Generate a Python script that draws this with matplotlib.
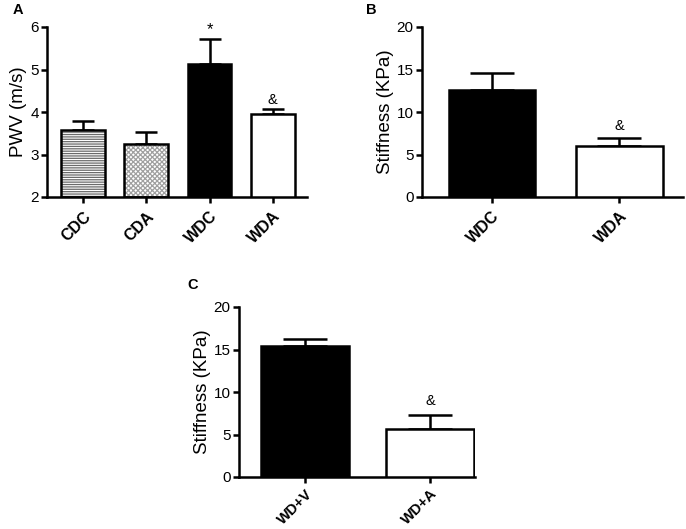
import numpy as np
import matplotlib
matplotlib.use("Agg")
import matplotlib.pyplot as plt

plt.rcParams['font.family'] = ['Liberation Sans', 'DejaVu Sans']

# panel A: pulse wave velocity
groups_a = ["CDC", "CDA", "WDC", "WDA"]
pwv_mean = [3.58, 3.25, 5.12, 3.96]
pwv_sem = [0.22, 0.27, 0.59, 0.10]
marks_a = ["", "", "*", "&"]

# panel B: stiffness
groups_b = ["WDC", "WDA"]
stiff_b_mean = [12.6, 6.0]
stiff_b_sem = [1.95, 0.98]
marks_b = ["", "&"]

# panel C: stiffness
groups_c = ["WD+V", "WD+A"]
stiff_c_mean = [15.4, 5.7]
stiff_c_sem = [0.85, 1.6]
marks_c = ["", "&"]

W, H = 686, 529
fig = plt.figure(figsize=(W / 100, H / 100), dpi=100)

def rect(l, r, t, b):
    return [l / W, 1 - b / H, (r - l) / W, (b - t) / H]

def style(ax, ylim, yticks, ylabel, labels, xsize=11.5, xpad=4):
    for s in ["top", "right"]:
        ax.spines[s].set_visible(False)
    for s in ["left", "bottom"]:
        ax.spines[s].set_linewidth(1.8)
    ax.set_ylim(*ylim)
    ax.set_yticks(yticks)
    ax.set_xticks(range(len(labels)))
    ax.set_xticklabels(labels, rotation=45, ha="right", rotation_mode="anchor",
                       fontweight="bold", fontsize=xsize)
    ax.tick_params(axis="both", width=1.8, length=4.5, labelsize=11, pad=1.5)
    ax.tick_params(axis="x", labelsize=xsize, pad=xpad)
    ax.set_ylabel(ylabel, fontsize=13.5, labelpad=2)

def bars(ax, means, sems, faces, hatches, hcolors, width, cap, marks, off):
    x = np.arange(len(means))
    y0 = ax.get_ylim()[0]
    for i in range(len(means)):
        h = [m - y0 for m in means]
        if hatches[i]:
            ax.bar(x[i], h[i], bottom=y0, width=width, color="white",
                   edgecolor=hcolors[i], hatch=hatches[i], linewidth=0, zorder=2)
            ax.bar(x[i], h[i], bottom=y0, width=width, color="none",
                   edgecolor="black", linewidth=1.8, zorder=3)
        else:
            ax.bar(x[i], h[i], bottom=y0, width=width, color=faces[i],
                   edgecolor="black", linewidth=1.8, zorder=3)
    ax.errorbar(x, means, yerr=[np.zeros(len(sems)), sems], fmt="none", ecolor="black",
                elinewidth=1.8, capsize=cap, capthick=1.8, zorder=1)
    for i in range(len(means)):
        if marks[i]:
            size = 12 if marks[i] == "*" else 10.5
            ax.text(x[i], means[i] + sems[i] + off, marks[i], ha="center", va="bottom", fontsize=size)

# A
axA = fig.add_axes(rect(47, 307, 27, 197))
axA.set_xlim(-0.57, 3.54)
style(axA, (2, 6), [2, 3, 4, 5, 6], "PWV (m/s)", groups_a)
plt.rcParams['hatch.linewidth'] = 0.9
bars(axA, pwv_mean, pwv_sem, ["white", "white", "black", "white"],
     ["-------", "xxxxxxx", "", ""], ["#6a6a6a", "#a0a0a0", "", ""],
     0.69, 7.9, marks_a, 0.05)

# B
axB = fig.add_axes(rect(422, 683, 27, 197))
axB.set_xlim(-0.55, 1.50)
style(axB, (0, 20), [0, 5, 10, 15, 20], "Stiffness (KPa)", groups_b)
bars(axB, stiff_b_mean, stiff_b_sem, ["black", "white"], ["", ""], ["", ""],
     0.68, 15.8, marks_b, 0.5)

# C
axC = fig.add_axes(rect(239, 475, 307, 477))
axC.set_xlim(-0.53, 1.36)
style(axC, (0, 20), [0, 5, 10, 15, 20], "Stiffness (KPa)", groups_c, xsize=10.5, xpad=2.5)
bars(axC, stiff_c_mean, stiff_c_sem, ["black", "white"], ["", ""], ["", ""],
     0.70, 15.8, marks_c, 0.8)

fig.text(13 / W, 1 - 10 / H, "A", fontweight="bold", fontsize=10.5, va="center")
fig.text(366 / W, 1 - 10 / H, "B", fontweight="bold", fontsize=10.5, va="center")
fig.text(187 / W, 1 - 285 / H, "C", fontweight="bold", fontsize=10.5, va="center")

fig.savefig("out.png", dpi=100)
